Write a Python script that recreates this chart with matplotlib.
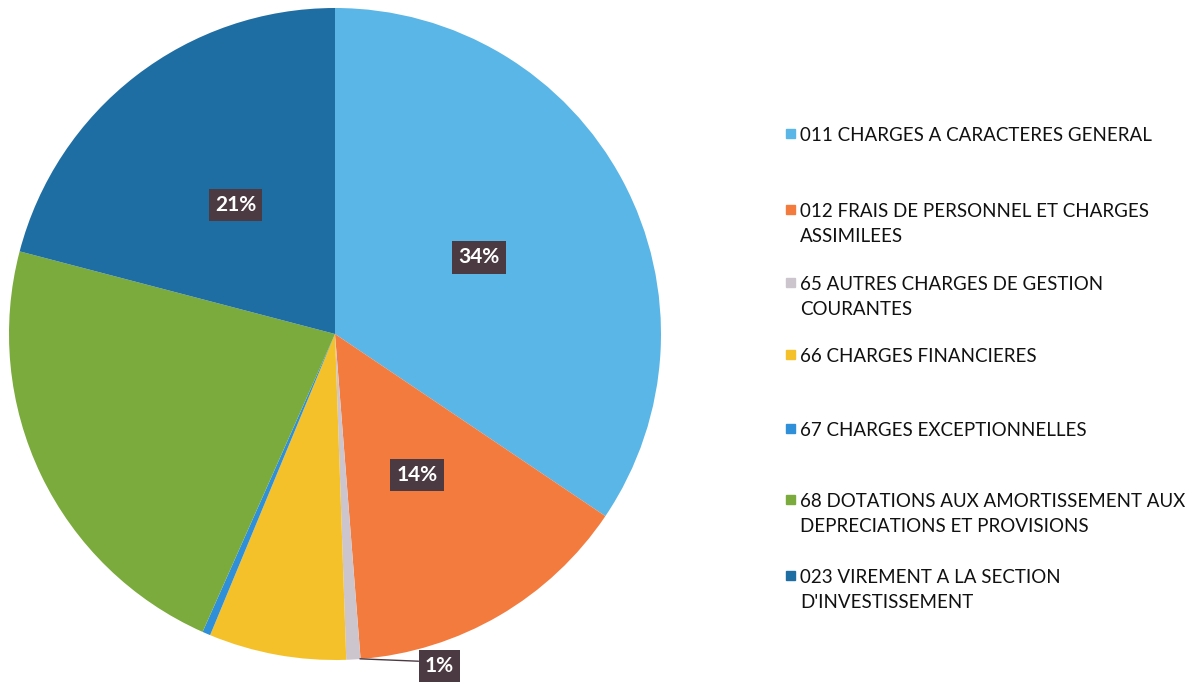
import matplotlib.pyplot as plt
import numpy as np

# Données (% du total)
categories = [
    "011 CHARGES A CARACTERES GENERAL",
    "012 FRAIS DE PERSONNEL ET CHARGES\nASSIMILEES",
    "65 AUTRES CHARGES DE GESTION\nCOURANTES",
    "66 CHARGES FINANCIERES",
    "67 CHARGES EXCEPTIONNELLES",
    "68 DOTATIONS AUX AMORTISSEMENT AUX\nDEPRECIATIONS ET PROVISIONS",
    "023 VIREMENT A LA SECTION\nD'INVESTISSEMENT",
]
valeurs = [34.4, 14.3, 0.7, 6.8, 0.4, 22.4, 20.9]
afficher = [True, True, True, False, False, False, True]
couleurs = ["#5ab6e6", "#f47b3e", "#cdc5cd", "#f5c12a", "#2f8fd8", "#7aab3c", "#1f6ea3"]

plt.rcParams['font.family'] = ['Lato', 'DejaVu Sans']

fig = plt.figure(figsize=(12.02, 6.84), dpi=100)
fig.patch.set_facecolor("white")
ax = fig.add_axes([9 / 1202, 24 / 684, 652 / 1202, 652 / 684])

wedges, _ = ax.pie(valeurs, colors=couleurs, startangle=90, counterclock=False,
                   radius=1, wedgeprops=dict(linewidth=0))
ax.set_xlim(-1, 1)
ax.set_ylim(-1, 1)
ax.set_aspect("equal")
ax.axis("off")

boite = dict(boxstyle="square,pad=0.3", fc="#4b3a42", ec="none")
for w, v, ok in zip(wedges, valeurs, afficher):
    if not ok:
        continue
    ang = np.deg2rad((w.theta1 + w.theta2) / 2)
    txt = f"{round(v)}%"
    if v < 2:
        # petite part : étiquette à l'extérieur avec trait de rappel
        x0, y0 = np.cos(ang), np.sin(ang)
        ax.annotate(txt, xy=(x0 + 0.02, y0 * 0.998), xytext=(0.32, -1.018),
                    ha="center", va="center", color="white", fontsize=15,
                    fontweight="bold", bbox=boite, annotation_clip=False,
                    arrowprops=dict(arrowstyle="-", color="#4b3a42", lw=1,
                                    shrinkA=0, shrinkB=0, relpos=(0, 0.72)))
    else:
        ax.text(0.5 * np.cos(ang), 0.5 * np.sin(ang), txt, ha="center", va="center",
                color="white", fontsize=15, fontweight="bold", bbox=boite)

# Légende à droite
lignes_y = [133, 209, 282, 354, 428, 499, 575]
for cat, col, y in zip(categories, couleurs, lignes_y):
    fig.patches.append(plt.Rectangle((786 / 1202, 1 - (y + 5) / 684), 9 / 1202, 9 / 684,
                                     transform=fig.transFigure, color=col, figure=fig))
    fig.text(800 / 1202, 1 - (y - 6) / 684, cat, ha="left", va="top",
             fontsize=13.5, color="#111111", linespacing=1.6)

fig.savefig("out.png", dpi=100, facecolor="white")
